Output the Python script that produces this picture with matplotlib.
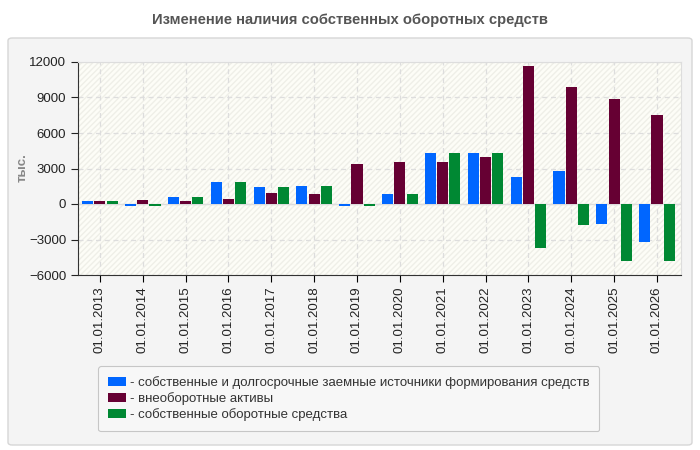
import numpy as np
import matplotlib.pyplot as plt
from matplotlib.patches import FancyBboxPatch, Rectangle

plt.rcParams['font.family'] = ['Liberation Sans', 'DejaVu Sans']

dates = ["01.01.2013", "01.01.2014", "01.01.2015", "01.01.2016", "01.01.2017",
         "01.01.2018", "01.01.2019", "01.01.2020", "01.01.2021", "01.01.2022",
         "01.01.2023", "01.01.2024", "01.01.2025", "01.01.2026"]
istochniki = [290, -140, 620, 1900, 1470, 1560, -140, 880, 4270, 4270, 2240, 2830, -1670, -3200]
vneoborotnye = [290, 370, 280, 450, 960, 880, 3420, 3510, 3510, 3930, 11660, 9880, 8860, 7500]
sos = [290, -140, 620, 1900, 1470, 1560, -140, 880, 4270, 4270, -3700, -1750, -4810, -4810]

labels = ["- собственные и долгосрочные заемные источники формирования средств",
          "- внеоборотные активы",
          "- собственные оборотные средства"]
colors = ["#0066ff", "#660033", "#008833"]

fig = plt.figure(figsize=(7, 4.5), dpi=100, facecolor="white")

# серая подложка
panel = FancyBboxPatch((8 / 700, 5 / 450), 684 / 700, 407 / 450,
                       boxstyle="round,pad=0,rounding_size=0.006",
                       transform=fig.transFigure, facecolor="#f4f4f4",
                       edgecolor="#d6d6d6", linewidth=1, zorder=-10)
fig.patches.append(panel)

fig.text(0.5, 1 - 20 / 450, "Изменение наличия собственных оборотных средств",
         ha="center", va="center", fontsize=10.6, fontweight="bold", color="#555555")

ax = fig.add_axes([78 / 700, 175 / 450, 603 / 700, 213 / 450])
ax.set_facecolor("#fdfdf7")
ax.add_patch(Rectangle((0, 0), 1, 1, transform=ax.transAxes, facecolor="none",
                       edgecolor="#efefe8", hatch="//////", linewidth=0, zorder=0))

x = np.arange(len(dates))
w = 0.26
step = 0.285
for i, (vals, c, lab) in enumerate(zip([istochniki, vneoborotnye, sos], colors, labels)):
    ax.bar(x + (i - 1) * step, vals, width=w, color=c, label=lab, zorder=3)

ax.set_xlim(-0.51, 13.56)
ax.set_ylim(-6000, 12000)
ax.set_yticks(np.arange(-6000, 12001, 3000))
ax.set_xticks(x)
ax.set_xticklabels(dates, rotation=90, fontsize=9.5, color="#222222")
ax.tick_params(axis="y", labelsize=9.5, colors="#222222", length=5)
ax.tick_params(axis="x", length=5)
ax.grid(True, linestyle=(0, (4, 3)), color="#dddddd", linewidth=0.9, zorder=1)
ax.axhline(0, color="#dddddd", linewidth=1, zorder=2)
for s in ["top", "right"]:
    ax.spines[s].set_color("#dddddd")
for s in ["left", "bottom"]:
    ax.spines[s].set_color("#333333")

fig.text(23 / 700, 1 - 168 / 450, "тыс.", rotation=90, ha="center", va="center",
         fontsize=9.5, fontweight="bold", color="#888888")

leg = fig.legend(loc="upper left", bbox_to_anchor=(98 / 700, 1 - 366 / 450),
                 fontsize=9.5, frameon=True, fancybox=True, handlelength=1.4,
                 handleheight=0.7, handletextpad=0.25, labelspacing=0.25,
                 borderpad=0.75, borderaxespad=0, edgecolor="#bbbbbb",
                 facecolor="#f8f8f8")
leg.get_frame().set_linewidth(0.8)
for t in leg.get_texts():
    t.set_color("#333333")

plt.savefig("out.png", dpi=100, facecolor=fig.get_facecolor())
